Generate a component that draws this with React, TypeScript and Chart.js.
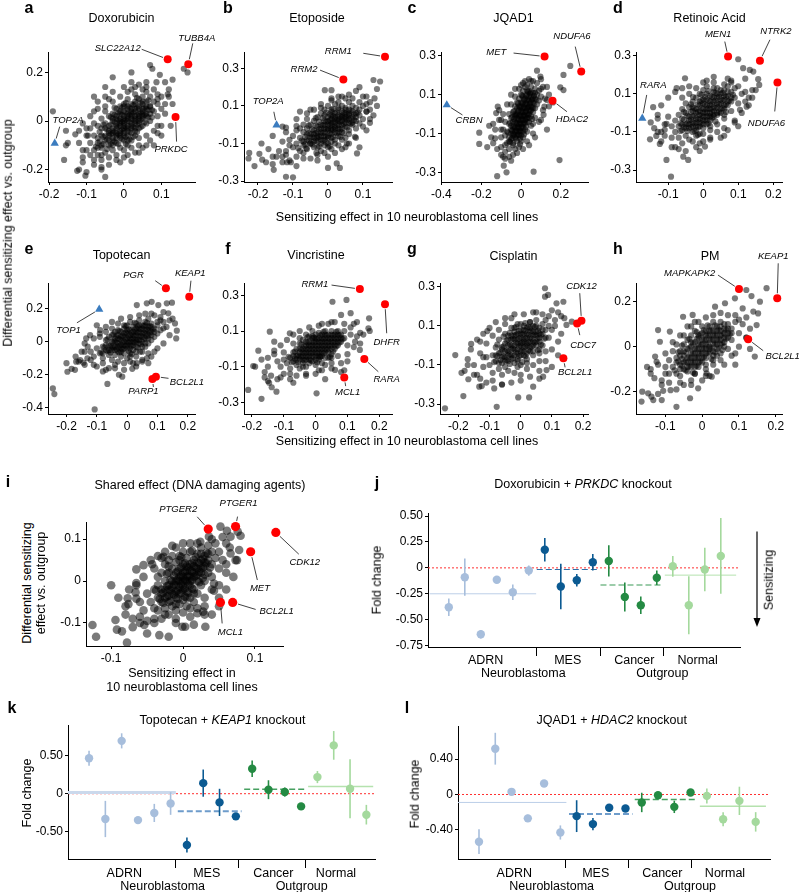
import React, { useEffect, useRef } from 'react';
import { Chart, registerables } from 'chart.js';

Chart.register(...registerables);

const FONT = "'Liberation Sans', Arial, Helvetica, sans-serif";
Chart.defaults.font.family = FONT;
Chart.defaults.color = '#000';

// ---------------- DATA (scatter clouds in hundredths: x,y,x,y,...) ----------------
const doxoCore = [-8,-12,-7,-9,-7,-14,-6,-6,-6,-11,-6,-3,-5,-8,-5,-13,-5,-1,-4,-5,-4,-10,-4,-2,-4,2,-3,-7,-3,-4,-3,0,-3,-12,-3,3,-2,-2,-2,-6,-2,1,-2,-9,-2,5,-1,-4,-1,0,-1,-1,-1,3,-1,-7,-1,-11,-1,6,0,-2,0,1,0,-5,0,4,0,-8,0,7,0,-1,1,0,1,-3,1,3,1,-6,1,6,1,-10,1,9,2,1,2,-2,2,4,2,-5,2,7,2,-8,3,2,3,-1,3,5,3,-4,3,8,3,11,4,3,4,0,4,6,4,-3,4,9,4,-7,5,4,5,1,5,7,5,-2,5,10,6,5,6,2,6,8,6,-1,6,12,7,6,7,3,7,10,7,0,8,8,8,4,8,-4,9,7,9,11,10,5,-5,4,-6,1,-7,-2,-8,-6,-9,-9,-9,-3,-10,-12,-10,-6,-2,-14,0,-12,2,-11,4,-10,6,-6,-3,8,-1,10,1,12,-5,6,-6,-16,-4,-15,2,13,5,13];
const doxoInner = [-4,-8,-4,-6,-3,-8,-3,-5,-3,-3,-2,-7,-2,-5,-2,-3,-2,-1,-1,-6,-1,-5,-1,-2,-1,1,0,-6,0,-4,0,-3,0,0,0,2,1,-4,1,-2,1,1,1,2,2,-3,2,-1,2,2,2,3,3,-3,3,0,3,1,3,4,4,-1,4,1,4,2,4,5,5,2,5,3,5,5,-4,-4,-5,-6,-3,-10,1,-8,3,-6,-1,4,1,5,3,7,5,8,6,3,-5,-3,-2,2,0,6,2,5,6,6,-6,-10,-3,1];
const doxoDense = [-5.5,-9.5,-5.5,-6.5,-4.5,-7.5,-4.5,-3.5,-4.5,-11.5,-3.5,-9.5,-3.5,-5.5,-3.5,-1.5,-2.5,-8.5,-2.5,-4.5,-2.5,-0.5,-2.5,2.5,-1.5,-9.5,-1.5,-5.5,-1.5,-2.5,-1.5,0.5,-1.5,3.5,-0.5,-7.5,-0.5,-3.5,-0.5,-0.5,-0.5,2.5,-0.5,5.5,0.5,-6.5,0.5,-2.5,0.5,0.5,0.5,3.5,0.5,-9.5,1.5,-4.5,1.5,-0.5,1.5,2.5,1.5,5.5,2.5,-6.5,2.5,-2.5,2.5,0.5,2.5,3.5,2.5,6.5,3.5,-4.5,3.5,-1.5,3.5,2.5,3.5,5.5,4.5,-2.5,4.5,0.5,4.5,3.5,4.5,7.5,5.5,-0.5,5.5,2.5,5.5,5.5,6.5,1.5,6.5,4.5,6.5,8.5,7.5,4.5,-6.5,-8.5,-6.5,-4.5,-5.5,-1.5,-3.5,1.5,-2.5,5.5,0.5,7.5,3.5,9.5,7.5,1.5,-7.5,-10.5,1.5,-7.5];
const doxoMid = [-11,-12,-10,-3,-9,-14,-9,2,-8,-18,-8,4,-7,-11,-7,8,-6,-20,-5,10,-4,-18,-3,12,-2,-16,0,-15,0,14,1,-14,2,16,3,-13,4,15,5,-11,6,16,7,-8,8,13,9,-2,10,10,10,-6,11,3,12,13,13,7,8,-10,-12,-4,-11,-17,4,-13,6,14,-7,-7,9,9];
const doxoOut = [-19,4,-15.5,-4,-15,-9,-15.5,-10,-16,-16,-12.5,-20.5,-12,-20,-10,-21,-10.3,-22.5,-5,-23,-13,-5.5,-11,-1,-9.6,-6,-8,10,-5,14,-3,18,2,20,7,23,7.6,21.5,8.7,16,9.6,19,11,16,13,17,16,21.5,17,20,12,10,10,-2,9,-5,12.5,-2,6,-10,2,-16.5,-1,-17,7,6,11.7,11,-11,-15,-8,-16,-6,-14,-6,-19,-7,5,-4,9,3,14,9,2,11,7,-12,-9,-8,-1];
const doxoHits = [['SLC22A12', 0.117, 0.254], ['TUBB4A', 0.172, 0.234], ['PRKDC', 0.138, 0.016]];
const doxoMarks = [['TOP2A', -0.185, -0.092]];

const etoCore = [-9,-10,-8,-14,-8,-7,-7,-11,-7,-4,-6,-8,-6,-13,-6,-2,-5,-5,-5,-10,-5,0,-4,-7,-4,-3,-4,-12,-4,2,-3,-1,-3,-6,-3,-9,-3,4,-2,-4,-2,0,-2,-8,-2,-14,-2,6,-1,-2,-1,2,-1,-6,-1,-11,-1,8,0,0,0,-3,0,4,0,-7,0,-10,0,10,1,1,1,-2,1,5,1,-5,1,-9,1,8,2,3,2,-1,2,6,2,-4,2,-8,2,11,3,2,3,5,3,-2,3,8,3,-6,4,4,4,0,4,7,4,-4,4,10,5,3,5,6,5,-1,5,9,5,-7,6,5,6,1,6,8,6,-3,6,12,7,4,7,7,7,0,7,10,8,6,8,2,8,9,8,-2,9,5,9,8,10,3,10,10,-10,-12,-11,-8,-9,-3,-7,0,-6,3,-3,-16,-1,-15,1,-13,3,-11,5,-12,3,12,1,13,-2,9,11,7,12,12,-12,-14];
const etoInner = [-5,-7,-4,-5,-4,-9,-3,-4,-3,-7,-2,-6,-2,-2,-2,-10,-1,-4,-1,-8,-1,0,0,-2,0,-6,0,2,1,-3,1,0,1,3,1,-7,2,-2,2,1,2,4,3,0,3,3,3,-4,4,2,4,5,4,-2,5,1,5,4,6,3,6,6,-6,-5,-5,-10,-3,-12,0,-12,2,-10,4,-8,-1,5,1,7,3,9,6,-5,7,1,-7,-9,5,8,8,4];
const etoDense = [-6.5,-10.5,-6.5,-6.5,-5.5,-8.5,-5.5,-4.5,-4.5,-10.5,-4.5,-6.5,-4.5,-2.5,-3.5,-8.5,-3.5,-4.5,-3.5,-0.5,-2.5,-11.5,-2.5,-6.5,-2.5,-2.5,-2.5,1.5,-1.5,-8.5,-1.5,-4.5,-1.5,-0.5,-1.5,3.5,-0.5,-6.5,-0.5,-2.5,-0.5,1.5,-0.5,-9.5,0.5,-4.5,0.5,-0.5,0.5,2.5,0.5,5.5,1.5,-6.5,1.5,-2.5,1.5,1.5,1.5,4.5,2.5,-4.5,2.5,-0.5,2.5,2.5,2.5,6.5,3.5,-2.5,3.5,1.5,3.5,4.5,3.5,-6.5,4.5,0.5,4.5,3.5,4.5,6.5,5.5,-1.5,5.5,2.5,5.5,5.5,6.5,0.5,6.5,3.5,6.5,7.5,7.5,2.5,7.5,5.5,-7.5,-8.5,-5.5,-0.5,-3.5,3.5,-0.5,6.5,1.5,8.5,4.5,-4.5,8.5,6.5,-8.5,-12.5,0.5,-11.5];
const etoMid = [-14,-14,-13,-9,-12,-4,-11,-19,-10,-6,-9,-17,-8,-2,-7,-15,-6,6,-5,-18,-4,8,-3,-19,-2,11,0,-17,1,14,2,-15,3,15,4,-13,5,14,6,-10,7,14,8,-7,9,12,10,-1,11,11,12,1,12,8,13,5,14,10,-13,-17,-8,7,9,-12,11,15,-11,-11];
const etoOut = [-22.5,-15,-22.7,-18,-21,-22,-19.6,-15.5,-18.8,-18.6,-17.7,-20,-15.8,-17,-15.8,-21,-15.5,-24,-14.7,-17,-13,-20,-11.7,-20,-12,-16,-10.6,-20,-10,-28,-13,-1,-12,-1.6,-15.8,-6,-9,-0.7,-9,3,-0.9,18.4,1,18.4,13,23.8,14.9,23,13.3,14,11,7,9,0.7,7.7,-6.4,8.3,-15.3,5.4,-10,2.5,-20.6,3.4,-23,0,-23,-3.3,-15,-6.2,-12.6,-12,-27.7,6,16,8,18,10,15,4,15,-5,8,11,-3,12,3,14,19,9,20,-7,-18,-9,-22,-17,-13,-19,-10];
const etoHits = [['RRM1', 0.163, 0.362], ['RRM2', 0.044, 0.241]];
const etoMarks = [['TOP2A', -0.147, -0.002]];

const jqCore = [-7,-15,-7,-9,-6,-12,-6,-5,-6,-18,-5,-8,-5,-2,-5,-13,-4,-10,-4,-4,-4,1,-4,-16,-3,-7,-3,-1,-3,-12,-3,4,-2,-5,-2,0,-2,-9,-2,6,-2,-14,-1,-3,-1,2,-1,-7,-1,-11,-1,8,0,-1,0,4,0,-5,0,-9,0,10,0,-14,1,1,1,-3,1,6,1,-7,1,12,2,3,2,-1,2,8,2,-5,2,14,3,5,3,0,3,10,3,-4,4,7,4,2,4,12,4,-2,5,9,5,4,5,14,5,-1,6,11,6,6,6,1,7,13,7,8,7,3,8,10,8,5,9,12,9,7,-8,-11,-8,-4,-9,-8,-3,-18,-1,-17,1,-12,3,-9,5,-6,7,-2,-5,5,-3,9,-1,13,1,16,3,15,-6,0,-8,-16,-10,-12,10,9,11,14,6,-5];
const jqInner = [-4,-7,-4,-11,-3,-9,-3,-4,-2,-7,-2,-2,-2,-11,-1,-5,-1,-1,-1,-9,0,-3,0,1,0,-7,0,-11,1,-1,1,3,1,-5,1,-9,2,1,2,5,2,-3,3,3,3,7,3,-2,4,4,4,9,4,0,5,6,5,11,5,2,6,8,-5,-10,-5,-6,-3,0,-1,4,1,9,3,12,0,6,-2,3,6,3,7,11,-6,-14,-4,-15,2,-8,4,-4];
const jqDense = [-4.5,-12.5,-4.5,-8.5,-3.5,-10.5,-3.5,-6.5,-3.5,-2.5,-2.5,-12.5,-2.5,-8.5,-2.5,-4.5,-2.5,-0.5,-1.5,-10.5,-1.5,-6.5,-1.5,-2.5,-1.5,1.5,-0.5,-8.5,-0.5,-4.5,-0.5,-0.5,-0.5,3.5,-0.5,-12.5,0.5,-6.5,0.5,-2.5,0.5,1.5,0.5,5.5,1.5,-4.5,1.5,-0.5,1.5,3.5,1.5,7.5,2.5,-6.5,2.5,-2.5,2.5,1.5,2.5,5.5,2.5,9.5,3.5,-0.5,3.5,3.5,3.5,7.5,4.5,1.5,4.5,5.5,4.5,10.5,5.5,3.5,5.5,7.5,6.5,5.5,6.5,9.5,-5.5,-14.5,-5.5,-4.5,-4.5,-1.5,-3.5,1.5,-1.5,5.5,0.5,9.5,3.5,11.5,5.5,-2.5,7.5,7.5,-6.5,-9.5,-0.5,-15.5,1.5,-10.5];
const jqMid = [-15,-12,-13,-8,-12,-18,-11,-3,-10,-21,-9,0,-8,-23,-7,5,-6,-22,-5,10,-4,-21,-3,13,-2,-20,0,15,1,-18,2,17,3,-14,5,17,6,-10,8,16,9,-4,10,13,11,2,12,8,13,14,14,4,-14,-15,-10,-8,7,-12,10,18,-16,-6,4,-16];
const jqOut = [-21,-9.6,-21,-15.4,-17,-17,-13,-12.5,-10,-17,-8,-19.4,-8.7,-26.6,-7.3,-30,-12,-32,6.3,-29.7,19.3,-23.7,24.7,24.8,21.3,20.2,21.3,12.4,19.7,13.8,13,7.3,11.7,3.8,11.3,-0.4,8,22.4,9.7,19.3,-11.7,3.8,-11,2,-12.5,0.5,-14,-5,-10,-3,14,10,16,6,4,18,6,17,-9,-22,-5,-24,10,-3,13,-8];
const jqHits = [['MET', 0.118, 0.297], ['NDUFA6', 0.302, 0.219], ['HDAC2', 0.158, 0.069]];
const jqMarks = [['CRBN', -0.373, 0.047]];

const raCore = [-8,-10,-8,-4,-7,-13,-7,-7,-7,-1,-6,-9,-6,-3,-6,2,-5,-12,-5,-6,-5,0,-5,5,-4,-8,-4,-2,-4,3,-4,-14,-3,-5,-3,1,-3,-10,-3,6,-2,-3,-2,2,-2,-7,-2,8,-1,-1,-1,4,-1,-5,-1,-11,-1,10,0,0,0,5,0,-4,0,-8,0,12,1,2,1,-2,1,7,1,-6,1,14,2,4,2,0,2,9,2,-4,2,-9,3,6,3,1,3,11,3,-2,4,8,4,3,4,13,4,-1,4,-6,5,5,5,10,5,0,6,7,6,2,6,12,6,-3,7,9,7,4,7,14,8,6,8,11,8,1,9,8,9,13,10,5,-9,-7,-9,-13,-10,-2,-6,8,-4,10,-2,13,0,16,-3,-15,-1,-16,2,-13,4,-10,6,-8,11,10,12,6,-11,-6];
const raInner = [-4,-6,-4,-4,-3,-7,-3,-2,-2,-5,-2,0,-2,-9,-1,-3,-1,1,-1,-7,0,-2,0,2,0,-6,0,7,1,0,1,4,1,-4,2,2,2,6,2,-2,3,3,3,8,3,-1,4,5,4,10,4,0,5,7,5,2,5,12,6,4,6,9,7,6,7,11,-5,-8,-6,-6,-3,3,-1,6,1,10,3,13,6,-1,8,8,2,-7,-2,-12,0,-11];
const raDense = [-5.5,-7.5,-5.5,-3.5,-4.5,-9.5,-4.5,-5.5,-4.5,-1.5,-3.5,-7.5,-3.5,-3.5,-3.5,0.5,-2.5,-5.5,-2.5,-1.5,-2.5,2.5,-2.5,-9.5,-1.5,-3.5,-1.5,0.5,-1.5,4.5,-1.5,-7.5,-0.5,-1.5,-0.5,2.5,-0.5,-5.5,-0.5,6.5,0.5,0.5,0.5,4.5,0.5,-3.5,0.5,8.5,1.5,2.5,1.5,-1.5,1.5,6.5,1.5,-5.5,2.5,0.5,2.5,4.5,2.5,8.5,2.5,-2.5,3.5,2.5,3.5,6.5,3.5,10.5,4.5,4.5,4.5,0.5,4.5,8.5,5.5,6.5,5.5,2.5,5.5,10.5,6.5,4.5,6.5,8.5,7.5,6.5,-6.5,-5.5,-6.5,-9.5,-5.5,0.5,-3.5,4.5,-0.5,9.5,3.5,-4.5,6.5,0.5,8.5,9.5,-1.5,-11.5,1.5,11.5];
const raMid = [-14,-8,-13,-1,-12,-15,-12,4,-11,-12,-10,8,-9,-18,-8,11,-7,-19,-6,13,-5,-20,-4,14,-2,-18,0,-15,1,17,2,-14,3,16,5,-13,6,15,7,-9,8,16,9,-4,10,14,11,0,12,11,13,4,14,8,15,12,-15,-5,-13,-10,7,18,10,-7];
const raOut = [-14.3,3,-15.2,-13.9,-13.4,-12.1,-12.4,-16.3,-10.5,-24.7,-9.2,-33.5,-10.5,-5.8,-11,-8.9,-5.2,18.2,-7.6,13,-2.9,8.3,-5.7,-23,-4.3,-24.7,0.5,-17.7,10,28.2,11.4,23.5,13.3,22.6,14.3,21.7,15.7,17.7,16,14.7,12.4,3.3,10.5,1.6,14,12,12,18,8,17,-12,-10,-8,-18,-6,-16,9,-5,6,-12,13,8,3,19,-13,-3,-1,-20];
const raHits = [['MEN1', 0.071, 0.296], ['NTRK2', 0.162, 0.274], ['NDUFA6', 0.212, 0.16]];
const raMarks = [['RARA', -0.174, -0.028]];

const topoCore = [-9,-7,-8,-3,-8,-10,-7,-5,-7,1,-6,-8,-6,-2,-6,3,-5,-5,-5,0,-5,-11,-4,-3,-4,2,-4,-8,-4,6,-3,-1,-3,4,-3,-6,-3,-12,-2,1,-2,-4,-2,6,-2,-9,-1,-2,-1,3,-1,8,-1,-7,0,0,0,5,0,-4,0,-10,0,10,1,2,1,-2,1,7,1,-7,1,12,2,4,2,0,2,9,2,-5,3,6,3,1,3,11,3,-3,3,-9,4,3,4,8,4,-1,4,13,5,5,5,10,5,0,5,-6,6,7,6,2,6,12,6,-3,7,9,7,4,7,14,7,-1,8,6,8,11,8,1,9,8,9,3,10,10,10,5,-10,-4,-11,-9,-12,-6,-7,6,-5,8,-3,11,-1,-13,1,-12,3,-15,5,-11,7,-7,11,7,12,12,-9,3];
const topoInner = [-5,-3,-4,-5,-4,0,-3,-3,-3,2,-2,-2,-2,3,-2,-6,-1,0,-1,5,-1,-4,0,2,0,-2,0,7,1,0,1,4,1,-4,2,2,2,6,2,-2,3,4,3,8,3,0,4,6,4,1,4,10,5,3,5,8,5,-3,6,5,6,10,7,7,7,2,8,9,8,4,-6,-5,-7,-2,-5,4,-3,7,-1,10,1,-9,3,-6,6,-1,9,6,-8,-7,10,12];
const topoDense = [-6.5,-5.5,-5.5,-2.5,-5.5,-6.5,-4.5,-3.5,-4.5,0.5,-3.5,-4.5,-3.5,-0.5,-3.5,3.5,-2.5,-2.5,-2.5,1.5,-2.5,-6.5,-1.5,-0.5,-1.5,3.5,-1.5,-4.5,-0.5,1.5,-0.5,-2.5,-0.5,5.5,0.5,-0.5,0.5,3.5,0.5,-5.5,0.5,7.5,1.5,1.5,1.5,5.5,1.5,-2.5,2.5,3.5,2.5,-0.5,2.5,7.5,3.5,1.5,3.5,5.5,3.5,9.5,4.5,3.5,4.5,7.5,4.5,-1.5,5.5,5.5,5.5,1.5,5.5,9.5,6.5,3.5,6.5,7.5,7.5,5.5,7.5,9.5,-7.5,-3.5,-6.5,1.5,-4.5,4.5,-2.5,6.5,-0.5,9.5,1.5,-7.5,3.5,-3.5,8.5,7.5,6.5,11.5,-8.5,-6.5,2.5,11.5];
const topoMid = [-16,-12,-15,-6,-14,-14,-13,-3,-12,-11,-11,2,-10,-15,-9,5,-8,-18,-7,9,-6,-16,-5,12,-4,-14,-2,14,-1,-17,1,15,2,-13,4,16,5,-12,6,17,8,-9,9,16,10,-4,11,13,12,-1,13,9,14,4,15,14,-17,-9,-14,-1,7,-13,12,18];
const topoOut = [-24.5,-28.3,-24,-31.7,-10.7,-41,-19.7,-18.2,-18.3,-16.4,-17.2,-17,-16.8,-12.1,-15.5,-11.1,-14.4,-12.7,-13.1,-10,-13.5,2,-12.2,4,-8.9,7.1,-6.5,-25.6,-2.7,-20,-1.6,-21.2,-4,-16.1,3.2,22.2,6.5,23.3,8.1,24.2,10.3,22.2,13.1,23.3,14.8,23.7,13.6,17.2,15.8,11.1,16.4,6.7,16.2,2,12,8.1,4.3,-6,6.5,-10,3.2,-13,1.7,-16.4,-14,-6,-11,-14,-8,-13,8,17,11,15,14,13,-20,-13,-7,-17,9,-6,-10,10];
const topoHits = [['PGR', 0.128, 0.324], ['KEAP1', 0.205, 0.273], ['PARP1', 0.0835, -0.226], ['BCL2L1', 0.095, -0.212]];
const topoMarks = [['TOP1', -0.092, 0.196]];

const vinCore = [-9,-8,-8,-5,-8,-11,-7,-7,-7,-2,-6,-9,-6,-4,-6,0,-5,-6,-5,-2,-5,-11,-5,3,-4,-4,-4,0,-4,-8,-4,5,-3,-2,-3,2,-3,-6,-3,-10,-2,0,-2,4,-2,-4,-2,7,-1,-2,-1,2,-1,-7,-1,6,0,0,0,4,0,-4,0,-9,0,8,1,2,1,-2,1,6,1,-6,2,4,2,0,2,8,2,-4,2,-8,3,2,3,6,3,-2,3,10,4,4,4,8,4,0,4,-5,5,6,5,2,5,10,5,-3,6,8,6,4,6,0,7,6,7,10,7,2,8,8,8,4,9,6,9,10,-10,-6,-11,-10,-10,-2,-12,-7,-7,3,-5,6,-3,8,-1,10,1,-12,3,-9,5,-8,7,-4,10,2,11,8,-8,-14,-13,-3];
const vinInner = [-5,-4,-4,-6,-4,-2,-3,-4,-3,0,-2,-2,-2,2,-2,-6,-1,0,-1,-4,-1,4,0,-2,0,2,0,6,1,0,1,4,1,-4,2,2,2,6,2,-2,3,0,3,4,3,8,4,2,4,6,4,-2,5,4,5,8,5,0,6,6,6,2,7,4,7,8,-6,-6,-7,-4,-5,0,-3,4,-1,7,1,9,3,-5,5,-5,-4,-10,-2,-8,0,-6,8,6];
const vinDense = [-6.5,-5.5,-5.5,-3.5,-5.5,-7.5,-4.5,-4.5,-4.5,-0.5,-3.5,-2.5,-3.5,-6.5,-3.5,1.5,-2.5,-0.5,-2.5,-4.5,-2.5,3.5,-1.5,-2.5,-1.5,1.5,-1.5,-6.5,-0.5,-0.5,-0.5,3.5,-0.5,-4.5,-0.5,6.5,0.5,1.5,0.5,-2.5,0.5,5.5,1.5,-0.5,1.5,3.5,1.5,-4.5,1.5,7.5,2.5,1.5,2.5,5.5,2.5,-2.5,3.5,3.5,3.5,-0.5,3.5,7.5,4.5,1.5,4.5,5.5,5.5,3.5,5.5,7.5,5.5,-1.5,6.5,5.5,6.5,1.5,7.5,3.5,7.5,7.5,-7.5,-7.5,-6.5,-1.5,-4.5,2.5,-2.5,6.5,0.5,-7.5,2.5,9.5,4.5,-4.5,6.5,9.5,-8.5,-4.5,8.5,5.5];
const vinMid = [-16,-13,-15,-5,-14,-15,-13,-1,-12,-17,-11,2,-10,-14,-9,5,-8,-17,-7,8,-6,-15,-5,10,-3,-15,-2,12,0,-14,1,13,2,-12,4,14,5,-11,6,15,8,-8,9,14,10,-3,11,12,12,1,13,7,14,3,15,8,-17,-6,-15,-18,8,-13,12,14];
const vinOut = [-21.2,-23,-17,-28,-13.8,-21.5,-14.6,-19,-12.3,-24,-18,-1,-14.4,9.6,-19.6,-9.6,-19,-10,-15,-10,-8.1,8.7,0.3,-24.9,5.3,26.4,9.7,27.4,16.8,17.1,16.6,11.5,12.4,4,13.9,-0.6,1.4,-4.4,6.1,-11.8,11,20,13,15,8,19,14,9,-16,-16,-11,-16,-7,-19,10,-7,3,-17,-3,-14,5,15,2,14,-13,4,9,-12,17,10];
const vinHits = [['RRM1', 0.139, 0.335], ['DHFR', 0.218, 0.25], ['RARA', 0.153, -0.057], ['MCL1', 0.09, -0.16]];

const cisCore = [-10,-10,-9,-5,-9,-14,-8,-8,-8,-1,-7,-12,-7,-4,-7,3,-6,-9,-6,-2,-6,-15,-5,-6,-5,1,-5,-11,-5,6,-4,-3,-4,3,-4,-8,-4,-13,-3,0,-3,5,-3,-5,-3,9,-2,-2,-2,3,-2,-9,-2,7,-2,-14,-1,1,-1,-4,-1,6,-1,-7,-1,11,0,0,0,4,0,-3,0,8,0,-10,1,2,1,-1,1,6,1,-5,1,10,2,4,2,0,2,9,2,-7,3,2,3,7,3,-3,3,12,4,5,4,0,4,10,4,-5,5,7,5,2,5,13,6,9,6,4,6,-2,7,11,7,6,7,0,8,8,8,13,9,10,9,4,-11,-6,-12,-11,-11,1,-9,5,-7,8,-5,11,-3,14,0,-15,2,-12,4,-10,6,-8,8,-3,10,8,11,13,-13,-4];
const cisInner = [-6,-6,-5,-3,-5,-8,-4,-5,-4,0,-3,-2,-3,-7,-3,3,-2,0,-2,-5,-2,5,-1,-2,-1,3,-1,-8,0,1,0,-5,0,6,1,-3,1,3,1,8,2,1,2,-4,2,6,3,4,3,-1,3,9,4,2,4,7,4,-3,5,5,5,10,5,0,6,6,6,2,-7,-9,-6,-1,-4,5,-2,9,0,11,-1,-11,2,-9,6,-4,7,8,-8,-5,8,4,3,12];
const cisDense = [-6.5,-7.5,-6.5,-3.5,-5.5,-5.5,-5.5,-0.5,-4.5,-7.5,-4.5,-2.5,-4.5,2.5,-3.5,-4.5,-3.5,0.5,-3.5,-9.5,-2.5,-1.5,-2.5,3.5,-2.5,-6.5,-1.5,-3.5,-1.5,1.5,-1.5,5.5,-0.5,-0.5,-0.5,3.5,-0.5,-5.5,-0.5,7.5,0.5,1.5,0.5,-2.5,0.5,5.5,1.5,-0.5,1.5,3.5,1.5,7.5,1.5,-5.5,2.5,1.5,2.5,5.5,2.5,-2.5,3.5,3.5,3.5,7.5,3.5,-0.5,4.5,5.5,4.5,1.5,4.5,9.5,5.5,3.5,5.5,7.5,6.5,5.5,6.5,0.5,-7.5,-5.5,-7.5,0.5,-5.5,4.5,-3.5,6.5,-1.5,9.5,0.5,-8.5,2.5,9.5,5.5,-2.5,7.5,3.5,-8.5,-8.5,1.5,11.5];
const cisMid = [-17,-10,-16,-2,-15,-15,-14,3,-13,-17,-12,6,-11,-19,-10,9,-9,-18,-8,12,-6,-20,-5,14,-3,-19,-2,16,0,-18,1,16,3,-16,4,17,6,-13,7,16,8,-8,9,15,10,-2,11,10,12,2,12,17,13,6,14,14,-18,-13,-12,-6,10,-11,6,-17];
const cisOut = [-24.3,-32.2,-21,-4.9,-18.4,-25.9,-16.8,-17.3,-13.3,-21.1,-12.5,-20.8,-15.9,0.8,-13,2,-10.7,7.4,-8.5,-22,-7.7,-31.4,-0.8,-26.6,2.7,-26.6,7.8,29.3,7.8,25,8.8,25.9,11.5,21.6,13.7,22.4,14.7,10.5,16.4,12.2,8.3,-12.6,7.2,-16,4,-21.1,-15,-10,-17,-7,-14,-15,13,15,10,18,5,17,-6,-20,12,-5,-19,-14];
const cisHits = [['CDK12', 0.195, 0.126], ['CDC7', 0.181, 0.113], ['BCL2L1', 0.137, -0.066]];

const pmCore = [-8,-9,-7,-12,-7,-5,-6,-8,-6,-2,-6,-13,-5,-10,-5,-4,-5,1,-4,-7,-4,-1,-4,-11,-4,3,-3,-5,-3,0,-3,-9,-3,5,-2,-3,-2,2,-2,-7,-2,-12,-2,7,-1,-1,-1,4,-1,-5,-1,-9,0,1,0,-3,0,6,0,-7,0,9,1,3,1,-1,1,7,1,-5,1,-10,2,5,2,0,2,9,2,-3,3,3,3,7,3,-2,3,11,4,5,4,1,4,9,4,-4,5,7,5,3,5,11,6,8,6,4,6,0,7,10,7,6,8,8,8,3,-9,-6,-9,-12,-10,-9,-8,-2,-7,1,-5,5,-3,9,-1,11,1,-13,3,-8,5,-6,7,-1,9,11,10,6,-6,-16,-3,-15];
const pmInner = [-5,-7,-4,-9,-4,-5,-3,-7,-3,-3,-2,-5,-2,-1,-2,-9,-1,-3,-1,1,-1,-7,0,-1,0,3,0,-5,1,1,1,5,1,-3,2,3,2,-1,2,7,3,1,3,5,3,-4,4,3,4,7,4,-1,5,5,5,1,5,9,6,6,6,2,7,8,7,4,-6,-10,-7,-7,-5,-2,-3,2,-1,5,1,-8,3,-6,5,-3,-6,-4,8,6,6,10,-2,-12];
const pmDense = [-5.5,-8.5,-5.5,-5.5,-4.5,-6.5,-4.5,-2.5,-4.5,-10.5,-3.5,-8.5,-3.5,-4.5,-3.5,-0.5,-2.5,-6.5,-2.5,-2.5,-2.5,1.5,-1.5,-4.5,-1.5,-0.5,-1.5,3.5,-1.5,-8.5,-0.5,-2.5,-0.5,1.5,-0.5,5.5,-0.5,-6.5,0.5,-0.5,0.5,3.5,0.5,-4.5,0.5,7.5,1.5,1.5,1.5,5.5,1.5,-2.5,2.5,3.5,2.5,-0.5,2.5,7.5,2.5,-5.5,3.5,1.5,3.5,5.5,3.5,9.5,4.5,3.5,4.5,-0.5,4.5,7.5,5.5,5.5,5.5,1.5,6.5,3.5,6.5,7.5,-6.5,-6.5,-6.5,-2.5,-5.5,0.5,-3.5,3.5,-1.5,6.5,1.5,9.5,3.5,-2.5,5.5,-1.5,7.5,5.5,-7.5,-10.5,-2.5,-11.5];
const pmMid = [-13,-14,-12,-8,-11,-17,-10,-3,-9,-16,-8,2,-7,-19,-6,5,-5,-17,-4,9,-3,-17,-2,11,0,-15,1,13,2,-13,3,14,4,-11,5,15,6,-8,7,14,8,-4,9,14,10,0,11,10,12,4,12,13,13,8,-14,-10,-10,-12,9,-8,13,-1,-12,-21];
const pmOut = [-16.3,-20,-14.7,-20.7,-13.8,-22.2,-16.5,-24.4,-13.3,-23.7,-11,-23.7,-10.6,-19.6,-8.6,-19.3,-7,-26.7,-12.8,-4.4,-12.4,-6.7,-11.5,2.2,-12,7.4,-8.8,6.7,-5.2,13.3,-2.6,14.1,3.5,17.8,6.2,19.3,8.9,21.5,12,25.2,13.4,22.5,15.7,20,17.5,26,13.9,15.6,15.2,14.8,14.8,9.6,14.3,-4.4,-1.1,-18.5,-3.3,-22.9,1.2,-11.8,2.6,-13.3,10,12,11,17,-14,-12,-11,-15,9,-3,12,4,-15,-9];
const pmHits = [['MAPKAPK2', 0.1, 0.256], ['KEAP1', 0.204, 0.215], ['BCL2L1', 0.125, 0.033]];

const sharedCore = [-4.5,-5,-4,-2,-4,-6.5,-3.5,-4,-3.5,1,-3.5,-7,-3,-2,-3,-5,-3,2,-2.5,0,-2.5,-4,-2.5,4,-2.5,-6.5,-2,-2,-2,2,-2,-5,-2,5,-1.5,0,-1.5,-3,-1.5,3,-1.5,-6,-1.5,6,-1,-1,-1,2,-1,-4,-1,4.5,-1,-7,-0.5,0,-0.5,3,-0.5,-3,-0.5,6,-0.5,-5.5,0,1,0,-2,0,4,0,-4.5,0,7,0.5,0,0.5,2.5,0.5,-2.5,0.5,5.5,0.5,-6,1,1,1,-1,1,4,1,-4,1,7,1.5,2,1.5,-2,1.5,5,1.5,-5,2,0,2,3,2,6.5,2,-3,2.5,2,2.5,5,2.5,-1,2.5,8,3,3.5,3,0,3,6,3,-4,3.5,2,3.5,5,3.5,8.5,4,4,4,1,4,7,4,-2,4.5,5.5,4.5,9,5,3,5,7,-5,-3,-5.5,-7,-6,-5,-4,3,-3,5.5,-1,8,1,9,2,-6.5,3,-6,-2,-8,0,-7.5,5.5,5,6,9,-6.5,-1];
const sharedInner = [-3,-3,-2.5,-2,-2,-1,-2,-3.5,-1.5,-1.5,-1,0,-1,-2.5,-0.5,1,-0.5,-1.5,0,0,0,2,0,-1,0.5,1,0.5,3.5,1,0,1,2.5,1.5,1,1.5,3.5,2,1.5,2,4.5,2.5,3,3,1.5,3,4.5,-1,-5.5,0.5,-4,1.5,-3,-3.5,-1,3.5,6.5,2.5,6.5,-2,3.5,-0.5,5,1,-6.5,-2.5,-8];
const sharedDense = [-3.25,-4.25,-2.75,-2.75,-2.75,-5.25,-2.25,-1.25,-2.25,-3.75,-1.75,0.25,-1.75,-2.25,-1.75,-4.75,-1.25,1.25,-1.25,-0.75,-1.25,-3.25,-0.75,2.25,-0.75,0.25,-0.75,-2.25,-0.75,-4.25,-0.25,3.25,-0.25,1.25,-0.25,-0.75,-0.25,-2.75,0.25,4.25,0.25,2.25,0.25,0.25,0.25,-1.75,0.25,-3.75,0.75,3.25,0.75,1.25,0.75,-0.75,0.75,-2.75,1.25,4.25,1.25,2.25,1.25,0.25,1.25,-1.75,1.75,3.25,1.75,1.25,1.75,5.75,2.25,4.25,2.25,2.25,2.25,-0.25,2.75,5.25,2.75,3.25,2.75,0.75,3.25,4.25,3.25,6.75,-3.75,-2.25,-0.25,5.75,1.25,7.25,3.75,3.25,-2.25,1.75];
const sharedMid = [-8,-6,-7.5,-2,-7,-9,-6.5,-0.5,-6,-10,-5.5,1,-5,-9.5,-4.5,5,-4,-10,-3.5,6,-3,-9,-2.5,7,-1,-9,0,9,1,-8.5,2,9,3,-8,4,10,5,-6,5.5,10.5,6,-2,6.5,8,7,1,7.5,5,5,-1,-9,-4,-8.5,-12,4,-8,6,4];
const sharedOut = [-12.6,-10.5,-12.1,-13.3,-10,-1,-9.4,-9.3,-9.2,-11.6,-7.8,-14.7,-7.7,-4.1,-7.6,-5.5,-6.5,2.8,-5.5,3.8,-6.6,-2.7,-6.5,-4.2,-6,-8.5,-5.4,-10.5,-5,-12.5,-4.3,4,-3.3,-12.9,-2,-13.3,-2.7,5.8,-1.5,8.4,-0.1,-10.9,0.3,-10.9,1.5,-10.4,3.1,-10.9,2,-7.7,2.8,-7.3,2.4,9.4,3.6,10.6,5.2,13,6.1,12,6.6,10.6,7.6,11.8,8,10.8,7.8,7.4,7.3,5,6.6,6.6,4.3,-0.6,4.3,-2.3,-8,-8,-7,-11,-4,-9,5,-4,6,2,-1,-10];
const sharedHits = [['PTGER2', 0.035, 0.124], ['PTGER1', 0.073, 0.13], ['CDK12', 0.129, 0.116], ['MET', 0.094, 0.07], ['MCL1', 0.052, -0.051], ['BCL2L1', 0.069, -0.051]];

// tick values
const xTicksA = [-0.2, -0.1, 0, 0.1];
const yTicksA = [-0.2, 0, 0.2];
const xTicksB = [-0.2, -0.1, 0, 0.1];
const yTicks3 = [-0.3, -0.1, 0.1, 0.3];
const xTicksC = [-0.4, -0.2, 0, 0.2];
const xTicksD = [-0.1, 0, 0.1, 0.2];
const xTicks5 = [-0.2, -0.1, 0, 0.1, 0.2];
const yTicksE = [-0.4, -0.2, 0, 0.2];
const yTicksH = [-0.2, 0, 0.2];
const xTicksI = [-0.1, 0, 0.1];
const yTicksI = [-0.1, 0, 0.1];

// knockout panels
const groups = ['ADRN', 'MES', 'Cancer', 'Normal'];
const superGroups = ['Neuroblastoma', 'Outgroup'];

const jVals = [[-0.38, -0.09, -0.64, -0.115, -0.235, -0.026], [0.175, -0.18, -0.12, 0.054], [0.067, -0.28, -0.36, -0.096], [0.015, -0.36, -0.016, 0.115]];
const jErrs = [[0.085, 0.18, 0.04, 0.02, 0.075, 0.05], [0.113, 0.22, 0.06, 0.08], [0.15, 0.14, 0.085, 0.07], [0.1, 0.28, 0.21, 0.365]];
const jMeans = [-0.25, -0.016, -0.165, -0.07];
const jYTicks = [0.5, 0.25, 0, -0.25, -0.5, -0.75];

const kVals = [[0.47, -0.335, 0.7, -0.35, -0.255, -0.13], [-0.68, 0.14, -0.115, -0.3], [0.33, 0.053, 0.022, -0.168], [0.22, 0.64, 0.066, -0.278]];
const kErrs = [[0.1, 0.24, 0.1, 0.02, 0.12, 0.15], [0.1, 0.18, 0.18, 0.03], [0.11, 0.125, 0.06, 0.03], [0.08, 0.19, 0.39, 0.13]];
const kMeans = [0.017, -0.233, 0.06, 0.097];
const kYTicks = [0.5, 0, -0.5];

const lVals = [[-0.534, 0.518, 0.03, -0.27, 0.124, -0.43], [-0.245, -0.335, -0.15, -0.158], [-0.09, -0.008, -0.14, 0.022], [-0.016, -0.28, -0.072, -0.31]];
const lErrs = [[0.14, 0.18, 0.02, 0.04, 0.02, 0.08], [0.18, 0.07, 0.02, 0.02], [0.11, 0.02, 0.07, 0.02], [0.085, 0.08, 0.16, 0.11]];
const lMeans = [-0.09, -0.222, -0.056, -0.132];
const lYTicks = [0.4, 0, -0.4];

// ---------------- LAYOUT ----------------
const PL = 50, PR = 60, PT = 50, PB = 30;
type Rect = { l: number; t: number; r: number; b: number };

const labelLayout: Record<string, Record<string, number[]>> = {
  a: { SLC22A12: [-50, -11, -26, -10], TUBB4A: [8.5, -25.8, 4.5, -20.8], PRKDC: [-4.5, 31.8, 1, 24.5], TOP2A: [13.3, -23.4, 5, -16.7] },
  b: { RRM1: [-46.7, -5, -21.7, -3.4], RRM2: [-39.3, -10, -23.3, -9.3], TOP2A: [-8.4, -24, -2.7, -13.3] },
  c: { MET: [-48.3, -4.4, -31, -3.4], NDUFA6: [-9.3, -35, -6, -25], HDAC2: [19.4, 18.3, 14.4, 11], CRBN: [22.3, 15, 15.7, 10] },
  d: { MEN1: [-10, -22.4, -3.3, -15], NTRK2: [16, -29.3, 10, -21], NDUFA6: [-11, 41.3, -2.7, 29], RARA: [11, -33.3, 4.4, -23.3] },
  e: { PGR: [-32.4, -13.3, -10.7, -7.6], KEAP1: [1, -23.4, 1.7, -16], TOP1: [-30.7, 20.7, -22.3, 13.4], PARP1: [-9, 12.5, 1, 8], BCL2L1: [31, 6, 12.6, 1.6] },
  f: { RRM1: [-45, -5, -28.3, -4], DHFR: [1.7, 38, 1.7, 29], RARA: [22.4, 20, 14, 12.7], MCL1: [3.4, 15, 1.4, 8.7] },
  g: { CDK12: [0, -34.3, -1.7, -27.7], CDC7: [6, 21.7, 2.7, 11.7], BCL2L1: [11.7, 14.4, 1.7, 9] },
  h: { MAPKAPK2: [-49.3, -15.7, -21, -14], KEAP1: [-4, -41.6, 1, -35], BCL2L1: [34.4, 17.4, 15, 11.4] },
  i: { PTGER2: [-30, -20, -11, -12.3], PTGER1: [3, -23.4, 2, -10], CDK12: [29, 29.4, 23, 21.7], MET: [9.3, 36.6, 6.7, 28.3], MCL1: [10, 30, 1.7, 21], BCL2L1: [44, 9.4, 23, 7] },
};

const geneLabelPlugin = {
  id: 'geneLabels',
  afterDatasetsDraw(chart: any, _args: any, opts: any) {
    const items = (opts && opts.items) || [];
    if (!items.length) return;
    const ctx = chart.ctx;
    const xs = chart.scales.x, ys = chart.scales.y;
    ctx.save();
    ctx.font = `italic ${opts.size || 9.5}px ${FONT}`;
    ctx.textAlign = 'center';
    ctx.textBaseline = 'middle';
    ctx.strokeStyle = '#111';
    ctx.fillStyle = '#000';
    ctx.lineWidth = 0.8;
    for (const it of items) {
      const px = xs.getPixelForValue(it.x), py = ys.getPixelForValue(it.y);
      const len = Math.hypot(it.lx, it.ly) || 1;
      const g = opts.gap || 5;
      ctx.beginPath();
      ctx.moveTo(px + (it.lx / len) * g, py + (it.ly / len) * g);
      ctx.lineTo(px + it.lx, py + it.ly);
      ctx.stroke();
      ctx.fillText(it.name, px + it.tx, py + it.ty);
    }
    ctx.restore();
  },
};
Chart.register(geneLabelPlugin);

const fmt1 = (v: number) => (v === 0 ? '0' : String(v));
const fmt2 = (v: number) => (v === 0 ? '0' : v.toFixed(2));

function axis(isX: boolean, min: number, max: number, ticks: number[], fmt: (v: number) => string, tickLen = 3, showLabels = true) {
  return {
    type: 'linear',
    position: isX ? 'bottom' : 'left',
    min,
    max,
    afterFit: (s: any) => {
      if (isX) s.height = PB;
      else s.width = PL;
    },
    afterBuildTicks: (s: any) => {
      s.ticks = ticks.map((v) => ({ value: v }));
    },
    grid: { display: true, drawOnChartArea: false, drawTicks: true, tickLength: tickLen, color: '#000', lineWidth: 1 },
    border: { display: true, color: '#000', width: 1 },
    ticks: {
      color: '#000',
      font: { size: 12, family: FONT },
      padding: 2,
      autoSkip: false,
      maxRotation: 0,
      minRotation: 0,
      callback: (v: number) => (showLabels ? fmt(v) : ''),
    },
  };
}

function toPts(...lists: number[][]) {
  const out: { x: number; y: number }[] = [];
  for (const l of lists) for (let i = 0; i < l.length; i += 2) out.push({ x: l[i] / 100, y: l[i + 1] / 100 });
  return out;
}

type ScatterP = {
  key: string; rect: Rect; x: number[]; y: number[]; xt: number[]; yt: number[];
  cloud: { x: number; y: number }[]; hits: any[]; marks: any[]; r: number; rr: number;
};

function scatterCfg(p: ScatterP) {
  const lay = labelLayout[p.key] || {};
  const items = [...p.hits, ...p.marks].map(([name, x, y]: any) => {
    const o = lay[name] || [0, -10, 0, -5];
    return { name, x, y, tx: o[0], ty: o[1], lx: o[2], ly: o[3] };
  });
  const gray = 'rgba(0,0,0,0.52)';
  return {
    type: 'scatter',
    data: {
      datasets: [
        { data: p.marks.map((m: any) => ({ x: m[1], y: m[2] })), pointStyle: 'triangle', pointRadius: p.rr + 0.8, pointBackgroundColor: '#3b7cbf', backgroundColor: '#3b7cbf', borderWidth: 0, pointBorderWidth: 0, order: 0, clip: false },
        { data: p.hits.map((m: any) => ({ x: m[1], y: m[2] })), pointRadius: p.rr, pointBackgroundColor: '#ff0000', backgroundColor: '#ff0000', borderWidth: 0, pointBorderWidth: 0, order: 1, clip: false },
        { data: p.cloud, pointRadius: p.r, pointBackgroundColor: gray, backgroundColor: gray, borderWidth: 0, pointBorderWidth: 0, order: 2, clip: false },
      ],
    },
    options: {
      responsive: false,
      maintainAspectRatio: false,
      animation: false,
      devicePixelRatio: 1,
      events: [],
      layout: { padding: { left: 0, right: PR, top: PT, bottom: 0 } },
      plugins: { legend: { display: false }, tooltip: { enabled: false }, title: { display: false }, geneLabels: { items, size: 9.5, gap: p.rr + 1 } },
      scales: { x: axis(true, p.x[0], p.x[1], p.xt, fmt1), y: axis(false, p.y[0], p.y[1], p.yt, fmt1) },
    },
  };
}

type ErrP = {
  rect: Rect; x: number[]; y: number[]; yt: number[]; vals: number[][]; errs: number[][]; means: number[];
  spans: number[][]; seps: number[]; meanW: number[]; meanCols: string[]; meanDash: number[][];
};

const groupCols = ['#a7bedc', '#0b5a92', '#248a43', '#a4d99d'];

function errCfg(p: ErrP) {
  const ds: any[] = [];
  let idx = 0;
  p.vals.forEach((vals, g) => {
    const col = groupCols[g];
    ds.push({ type: 'scatter', data: vals.map((v, i) => ({ x: idx + i, y: v })), pointRadius: 4.2, pointBackgroundColor: col, backgroundColor: col, borderWidth: 0, pointBorderWidth: 0, order: 0, clip: false });
    vals.forEach((v, i) => {
      const e = p.errs[g][i];
      ds.push({ type: 'line', showLine: true, data: [{ x: idx + i, y: v - e }, { x: idx + i, y: v + e }], borderColor: col, borderWidth: 1.6, pointRadius: 0, fill: false, order: 1, clip: false });
    });
    ds.push({ type: 'line', showLine: true, data: [{ x: p.spans[g][0], y: p.means[g] }, { x: p.spans[g][1], y: p.means[g] }], borderColor: p.meanCols[g], borderWidth: p.meanW[g], borderDash: p.meanDash[g], pointRadius: 0, fill: false, order: 2 });
    idx += vals.length;
  });
  ds.push({ type: 'line', showLine: true, data: [{ x: p.x[0], y: 0 }, { x: p.x[1], y: 0 }], borderColor: '#ff3030', borderWidth: 1, borderDash: [2, 2], pointRadius: 0, fill: false, order: 3 });
  return {
    type: 'scatter',
    data: { datasets: ds },
    options: {
      responsive: false,
      maintainAspectRatio: false,
      animation: false,
      devicePixelRatio: 1,
      events: [],
      layout: { padding: { left: 0, right: PR, top: PT, bottom: 0 } },
      plugins: { legend: { display: false }, tooltip: { enabled: false }, title: { display: false } },
      scales: { x: axis(true, p.x[0], p.x[1], p.seps, fmt2, 9, false), y: axis(false, p.y[0], p.y[1], p.yt, fmt2) },
    },
  };
}

function ChartBox({ rect, cfg }: { rect: Rect; cfg: () => any }) {
  const ref = useRef<HTMLCanvasElement>(null);
  const w = rect.r - rect.l + PL + PR;
  const h = rect.b - rect.t + PT + PB;
  useEffect(() => {
    const ch = new Chart(ref.current as HTMLCanvasElement, cfg() as any);
    return () => ch.destroy();
  }, []);
  return <canvas ref={ref} width={w} height={h} style={{ position: 'absolute', left: rect.l - PL, top: rect.t - PT, width: w, height: h }} />;
}

function T({ x, y, children, size = 12.5, bold = false, italic = false, rot = 0 }: any) {
  return (
    <div style={{ position: 'absolute', left: x, top: y, transform: `translate(-50%,-50%) rotate(${rot}deg)`, fontSize: size, fontWeight: bold ? 'bold' : 'normal', fontStyle: italic ? 'italic' : 'normal', whiteSpace: 'nowrap', lineHeight: 1, fontFamily: FONT, color: '#000' }}>
      {children}
    </div>
  );
}

const scatterPanels: (ScatterP & { title: string; tx: number; ty: number })[] = [
  { key: 'a', title: 'Doxorubicin', tx: 121.5, ty: 18, rect: { l: 48, t: 52, r: 195, b: 182 }, x: [-0.203, 0.19], y: [-0.251, 0.284], xt: xTicksA, yt: yTicksA, cloud: toPts(doxoCore, doxoInner, doxoDense, doxoMid, doxoOut), hits: doxoHits, marks: doxoMarks, r: 3.1, rr: 4 },
  { key: 'b', title: 'Etoposide', tx: 317, ty: 18, rect: { l: 244, t: 52, r: 392, b: 182 }, x: [-0.24, 0.183], y: [-0.305, 0.387], xt: xTicksB, yt: yTicks3, cloud: toPts(etoCore, etoInner, etoDense, etoMid, etoOut), hits: etoHits, marks: etoMarks, r: 3.1, rr: 4 },
  { key: 'c', title: 'JQAD1', tx: 513.5, ty: 18, rect: { l: 441, t: 52, r: 588, b: 182 }, x: [-0.402, 0.336], y: [-0.35, 0.32], xt: xTicksC, yt: yTicks3, cloud: toPts(jqCore, jqInner, jqDense, jqMid, jqOut), hits: jqHits, marks: jqMarks, r: 3.1, rr: 4 },
  { key: 'd', title: 'Retinoic Acid', tx: 709.5, ty: 18, rect: { l: 636, t: 52, r: 782, b: 182 }, x: [-0.192, 0.225], y: [-0.363, 0.32], xt: xTicksD, yt: yTicks3, cloud: toPts(raCore, raInner, raDense, raMid, raOut), hits: raHits, marks: raMarks, r: 3.1, rr: 4 },
  { key: 'e', title: 'Topotecan', tx: 121.5, ty: 255, rect: { l: 48, t: 283, r: 195, b: 414 }, x: [-0.261, 0.224], y: [-0.438, 0.356], xt: xTicks5, yt: yTicksE, cloud: toPts(topoCore, topoInner, topoDense, topoMid, topoOut), hits: topoHits, marks: topoMarks, r: 3.1, rr: 4 },
  { key: 'f', title: 'Vincristine', tx: 316, ty: 255, rect: { l: 244, t: 283, r: 392, b: 414 }, x: [-0.225, 0.24], y: [-0.365, 0.369], xt: xTicks5, yt: yTicks3, cloud: toPts(vinCore, vinInner, vinDense, vinMid, vinOut), hits: vinHits, marks: [], r: 3.1, rr: 4 },
  { key: 'g', title: 'Cisplatin', tx: 513.5, ty: 256, rect: { l: 440, t: 283, r: 588, b: 414 }, x: [-0.259, 0.216], y: [-0.351, 0.32], xt: xTicks5, yt: yTicks3, cloud: toPts(cisCore, cisInner, cisDense, cisMid, cisOut), hits: cisHits, marks: [], r: 3.1, rr: 4 },
  { key: 'h', title: 'PM', tx: 710, ty: 256, rect: { l: 636, t: 283, r: 782, b: 414 }, x: [-0.18, 0.217], y: [-0.299, 0.283], xt: xTicksD, yt: yTicksH, cloud: toPts(pmCore, pmInner, pmDense, pmMid, pmOut), hits: pmHits, marks: [], r: 3.1, rr: 4 },
  { key: 'i', title: 'Shared effect (DNA damaging agents)', tx: 200, ty: 485, rect: { l: 86, t: 522, r: 283, b: 646 }, x: [-0.135, 0.139], y: [-0.155, 0.141], xt: xTicksI, yt: yTicksI, cloud: toPts(sharedCore, sharedInner, sharedDense, sharedMid, sharedOut), hits: sharedHits, marks: [], r: 4.3, rr: 4.6 },
];

const errPanels: ErrP[] = [
  { rect: { l: 428, t: 513, r: 740, b: 647 }, x: [-1.3, 18.2], y: [-0.763, 0.529], yt: jYTicks, vals: jVals, errs: jErrs, means: jMeans,
    spans: [[-1.2, 5.46], [5.5, 9.42], [9.48, 13.3], [13.5, 17.96]], seps: [5.46, 9.46, 13.4],
    meanW: [1, 1.2, 1.2, 1], meanCols: ['#bccfe8', '#2f6fa8', '#3b9a56', '#b5e2ae'], meanDash: [[], [6, 3], [6, 3], []] },
  { rect: { l: 68, t: 725, r: 375, b: 859 }, x: [-1.29, 17.53], y: [-0.865, 0.91], yt: kYTicks, vals: kVals, errs: kErrs, means: kMeans,
    spans: [[-1.29, 5.32], [5.44, 9.35], [9.51, 13.24], [13.43, 17.42]], seps: [5.32, 9.18, 13.25],
    meanW: [3, 2, 1.5, 1.5], meanCols: ['#cbd9ec', '#6e9ccb', '#46a060', '#b5e2ae'], meanDash: [[], [6, 3], [6, 3], []] },
  { rect: { l: 458, t: 726, r: 770, b: 859 }, x: [-1.29, 17.88], y: [-0.73, 0.775], yt: lYTicks, vals: lVals, errs: lErrs, means: lMeans,
    spans: [[-1.29, 5.37], [5.53, 9.43], [9.57, 13.33], [13.57, 17.63]], seps: [5.31, 9.19, 13.08],
    meanW: [1, 2, 1.5, 1.5], meanCols: ['#bccfe8', '#6e9ccb', '#46a060', '#b5e2ae'], meanDash: [[], [6, 3], [6, 3], []] },
];

const catPos = [
  { y1: 659.5, y2: 672.5, xs: [485.7, 567.7, 634.3, 697.7], sx: [523.3, 662.3] },
  { y1: 872.7, y2: 885.5, xs: [124.3, 206.7, 273.3, 336], sx: [162.7, 301.7] },
  { y1: 872.7, y2: 885.5, xs: [514.3, 595.7, 662.3, 725], sx: [551.7, 690] },
];

const letters: [string, number, number][] = [
  ['a', 29, 8], ['b', 228, 8], ['c', 412, 8], ['d', 618, 8],
  ['e', 29, 249], ['f', 228, 249], ['g', 412, 249], ['h', 618, 249],
  ['i', 8, 482], ['j', 377, 483], ['k', 12, 708], ['l', 407, 708],
];

export default function App() {
  return (
    <div style={{ position: 'fixed', left: 0, top: 0, width: 800, height: 892, background: '#fff', overflow: 'hidden', fontFamily: FONT }}>
      {scatterPanels.map((p) => (
        <ChartBox key={p.key} rect={p.rect} cfg={() => scatterCfg(p)} />
      ))}
      {errPanels.map((p, i) => (
        <ChartBox key={'e' + i} rect={p.rect} cfg={() => errCfg(p)} />
      ))}
      {scatterPanels.map((p) => (
        <T key={'t' + p.key} x={p.tx} y={p.ty}>{p.title}</T>
      ))}
      {letters.map(([s, x, y]) => (
        <T key={'L' + s} x={x} y={y} size={16} bold>{s}</T>
      ))}
      <T x={407} y={217}>Sensitizing effect in 10 neuroblastoma cell lines</T>
      <T x={407} y={441}>Sensitizing effect in 10 neuroblastoma cell lines</T>
      <T x={8} y={233} rot={-90}>Differential sensitizing effect vs. outgroup</T>
      <T x={182} y={673}>Sensitizing effect in</T>
      <T x={182} y={687}>10 neuroblastoma cell lines</T>
      <T x={27} y={583} rot={-90}>Differential sensitizing</T>
      <T x={41} y={583} rot={-90}>effect vs. outgroup</T>
      <T x={583} y={484}>Doxorubicin + <i>PRKDC</i> knockout</T>
      <T x={222.5} y={720}>Topotecan + <i>KEAP1</i> knockout</T>
      <T x={611.7} y={720}>JQAD1 + <i>HDAC2</i> knockout</T>
      <T x={377} y={580} rot={-90}>Fold change</T>
      <T x={27} y={793} rot={-90}>Fold change</T>
      <T x={415} y={794} rot={-90}>Fold change</T>
      <T x={769} y={580} rot={-90}>Sensitizing</T>
      {catPos.map((c, ci) => (
        <React.Fragment key={'c' + ci}>
          {groups.map((g, gi) => (
            <T key={g} x={c.xs[gi]} y={c.y1}>{g}</T>
          ))}
          {superGroups.map((g, gi) => (
            <T key={g} x={c.sx[gi]} y={c.y2}>{g}</T>
          ))}
        </React.Fragment>
      ))}
      <svg width={800} height={892} style={{ position: 'absolute', left: 0, top: 0, pointerEvents: 'none' }}>
        <line x1={757} y1={531.5} x2={757} y2={620} stroke="#000" strokeWidth={1.2} />
        <polygon points="753.5,618 760.5,618 757,627" fill="#000" />
      </svg>
    </div>
  );
}
